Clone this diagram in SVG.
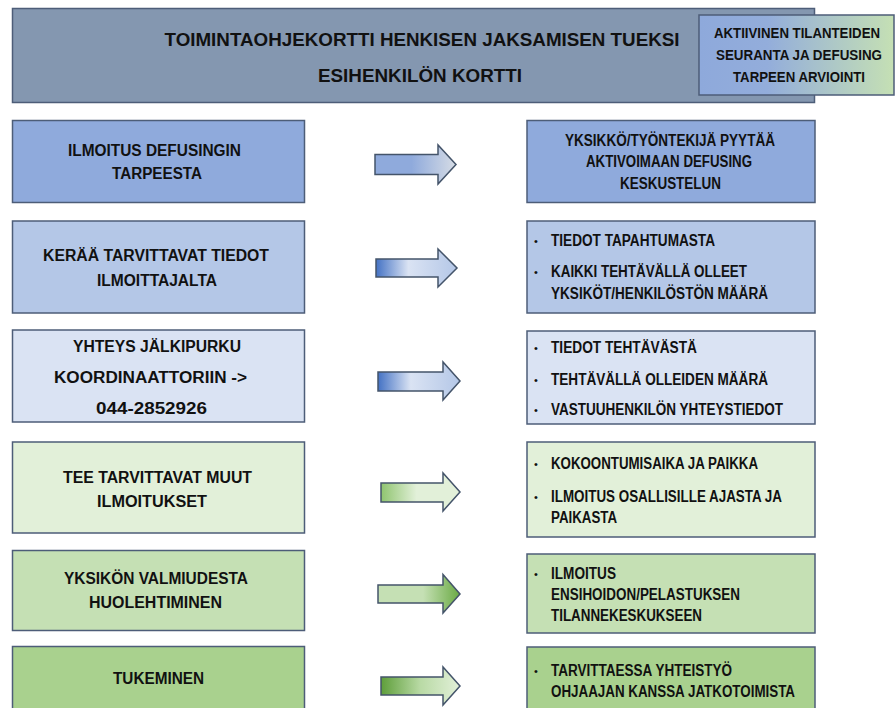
<svg xmlns="http://www.w3.org/2000/svg" width="896" height="708" viewBox="0 0 896 708">
<style>
.box{stroke:#4d5d78;stroke-width:1.5}
.arr{stroke:#44546a;stroke-width:1.5;stroke-linejoin:miter}
.lt{font-family:"Liberation Sans",Arial,sans-serif;font-weight:bold;font-size:16px;fill:#111;text-anchor:middle}
.rt{font-family:"Liberation Sans Narrow","Liberation Sans",Arial,sans-serif;font-weight:bold;font-size:16px;fill:#111}
.rc{text-anchor:middle}
.bl{font-family:"Liberation Sans",Arial,sans-serif;font-size:11px;fill:#111}
.ht{font-family:"Liberation Sans Narrow","Liberation Sans",Arial,sans-serif;font-weight:bold;font-size:18px;fill:#111;text-anchor:middle}
</style>
<defs>
<linearGradient id="gs" x1="0" y1="0" x2="1" y2="0"><stop offset="0" stop-color="#8EA9DB"/><stop offset="0.35" stop-color="#93ADDB"/><stop offset="1" stop-color="#C5E0B4"/></linearGradient>
<linearGradient id="g1" x1="0" y1="0" x2="1" y2="0"><stop offset="0" stop-color="#8FAADC"/><stop offset="0.45" stop-color="#8FAADC"/><stop offset="1" stop-color="#D6DCE5"/></linearGradient>
<linearGradient id="g2" x1="0" y1="0" x2="1" y2="0"><stop offset="0" stop-color="#4472C4"/><stop offset="0.4" stop-color="#DAE3F3"/><stop offset="1" stop-color="#B4C7E7"/></linearGradient>
<linearGradient id="g4" x1="0" y1="0" x2="1" y2="0"><stop offset="0" stop-color="#8FC46F"/><stop offset="0.45" stop-color="#E2F0D9"/><stop offset="1" stop-color="#E2F0D9"/></linearGradient>
<linearGradient id="g5" x1="0" y1="0" x2="1" y2="0"><stop offset="0" stop-color="#C5E0B4"/><stop offset="0.55" stop-color="#C5E0B4"/><stop offset="1" stop-color="#6AAA44"/></linearGradient>
<linearGradient id="g6" x1="0" y1="0" x2="1" y2="0"><stop offset="0" stop-color="#5E9E3A"/><stop offset="0.5" stop-color="#B9DAA5"/><stop offset="1" stop-color="#E2F0D9"/></linearGradient>
</defs>
<rect width="896" height="708" fill="#fff"/>

<g id="header">
<rect class="box" x="12.5" y="8.5" width="802" height="94" fill="#8497B0" stroke="#5b6b85"/>
<text class="ht" x="422" y="46" textLength="515" lengthAdjust="spacingAndGlyphs">TOIMINTAOHJEKORTTI HENKISEN JAKSAMISEN TUEKSI</text>
<text class="ht" x="420" y="82" textLength="204" lengthAdjust="spacingAndGlyphs">ESIHENKILÖN KORTTI</text>
</g>

<g id="seuranta">
<rect class="box" x="699" y="15" width="195" height="80" fill="url(#gs)"/>
<text class="rt rc" style="font-size:14px" x="797" y="38" textLength="166" lengthAdjust="spacingAndGlyphs">AKTIIVINEN TILANTEIDEN</text>
<text class="rt rc" style="font-size:14px" x="799" y="60" textLength="166" lengthAdjust="spacingAndGlyphs">SEURANTA JA DEFUSING</text>
<text class="rt rc" style="font-size:14px" x="799" y="82" textLength="132" lengthAdjust="spacingAndGlyphs">TARPEEN ARVIOINTI</text>
</g>

<g id="l1">
<rect class="box" x="12.5" y="120.5" width="292" height="82" fill="#8FAADC"/>
<text class="lt" x="154.5" y="156" textLength="173" lengthAdjust="spacingAndGlyphs">ILMOITUS DEFUSINGIN</text>
<text class="lt" x="157" y="179" textLength="90" lengthAdjust="spacingAndGlyphs">TARPEESTA</text>
</g>
<g id="l2">
<rect class="box" x="12.5" y="221" width="292" height="92" fill="#B4C7E7"/>
<text class="lt" x="156" y="261" textLength="226" lengthAdjust="spacingAndGlyphs">KERÄÄ TARVITTAVAT TIEDOT</text>
<text class="lt" x="157" y="286" textLength="120" lengthAdjust="spacingAndGlyphs">ILMOITTAJALTA</text>
</g>
<g id="l3">
<rect class="box" x="12.5" y="330" width="292" height="92" fill="#DAE3F3"/>
<text class="lt" x="157" y="352" textLength="168" lengthAdjust="spacingAndGlyphs">YHTEYS JÄLKIPURKU</text>
<text class="lt" x="150.5" y="383" textLength="193" lengthAdjust="spacingAndGlyphs">KOORDINAATTORIIN -&gt;</text>
<text class="lt" x="151.5" y="414" textLength="111" lengthAdjust="spacingAndGlyphs">044-2852926</text>
</g>
<g id="l4">
<rect class="box" x="12.5" y="442" width="292" height="91" fill="#E2F0D9"/>
<text class="lt" x="157.5" y="483" textLength="189" lengthAdjust="spacingAndGlyphs">TEE TARVITTAVAT MUUT</text>
<text class="lt" x="152" y="507" textLength="110" lengthAdjust="spacingAndGlyphs">ILMOITUKSET</text>
</g>
<g id="l5">
<rect class="box" x="12.5" y="550.5" width="292" height="80" fill="#C5E0B4"/>
<text class="lt" x="156" y="584" textLength="184" lengthAdjust="spacingAndGlyphs">YKSIKÖN VALMIUDESTA</text>
<text class="lt" x="155.5" y="608" textLength="133" lengthAdjust="spacingAndGlyphs">HUOLEHTIMINEN</text>
</g>
<g id="l6">
<rect class="box" x="12.5" y="646.5" width="292" height="80" fill="#A9D18E"/>
<text class="lt" x="158.5" y="684" textLength="91" lengthAdjust="spacingAndGlyphs">TUKEMINEN</text>
</g>

<g id="r1">
<rect class="box" x="527" y="120.5" width="288" height="82" fill="#8FAADC"/>
<text class="rt rc" x="670" y="146" textLength="210" lengthAdjust="spacingAndGlyphs">YKSIKKÖ/TYÖNTEKIJÄ PYYTÄÄ</text>
<text class="rt rc" x="669" y="167" textLength="166" lengthAdjust="spacingAndGlyphs">AKTIVOIMAAN DEFUSING</text>
<text class="rt rc" x="670.5" y="189" textLength="101" lengthAdjust="spacingAndGlyphs">KESKUSTELUN</text>
</g>
<g id="r2">
<rect class="box" x="527" y="221" width="288" height="92" fill="#B4C7E7"/>
<text class="bl" x="534" y="245">•</text>
<text class="rt" x="551" y="246" textLength="164" lengthAdjust="spacingAndGlyphs">TIEDOT TAPAHTUMASTA</text>
<text class="bl" x="534" y="276">•</text>
<text class="rt" x="551" y="277" textLength="196" lengthAdjust="spacingAndGlyphs">KAIKKI TEHTÄVÄLLÄ OLLEET</text>
<text class="rt" x="551" y="299" textLength="217" lengthAdjust="spacingAndGlyphs">YKSIKÖT/HENKILÖSTÖN MÄÄRÄ</text>
</g>
<g id="r3">
<rect class="box" x="527" y="331" width="288" height="93" fill="#DAE3F3"/>
<text class="bl" x="534" y="352">•</text>
<text class="rt" x="551" y="353" textLength="146" lengthAdjust="spacingAndGlyphs">TIEDOT TEHTÄVÄSTÄ</text>
<text class="bl" x="534" y="384">•</text>
<text class="rt" x="551" y="385" textLength="217" lengthAdjust="spacingAndGlyphs">TEHTÄVÄLLÄ OLLEIDEN MÄÄRÄ</text>
<text class="bl" x="534" y="414">•</text>
<text class="rt" x="551" y="415" textLength="232" lengthAdjust="spacingAndGlyphs">VASTUUHENKILÖN YHTEYSTIEDOT</text>
</g>
<g id="r4">
<rect class="box" x="527" y="442" width="288" height="95" fill="#E2F0D9"/>
<text class="bl" x="534" y="468">•</text>
<text class="rt" x="551" y="469" textLength="207" lengthAdjust="spacingAndGlyphs">KOKOONTUMISAIKA JA PAIKKA</text>
<text class="bl" x="534" y="501">•</text>
<text class="rt" x="551" y="502" textLength="231" lengthAdjust="spacingAndGlyphs">ILMOITUS OSALLISILLE AJASTA JA</text>
<text class="rt" x="551" y="523" textLength="66" lengthAdjust="spacingAndGlyphs">PAIKASTA</text>
</g>
<g id="r5">
<rect class="box" x="527" y="554" width="288" height="79" fill="#C5E0B4"/>
<text class="bl" x="534" y="578">•</text>
<text class="rt" x="551" y="579" textLength="65" lengthAdjust="spacingAndGlyphs">ILMOITUS</text>
<text class="rt" x="551" y="600" textLength="189" lengthAdjust="spacingAndGlyphs">ENSIHOIDON/PELASTUKSEN</text>
<text class="rt" x="551" y="621" textLength="151" lengthAdjust="spacingAndGlyphs">TILANNEKESKUKSEEN</text>
</g>
<g id="r6">
<rect class="box" x="527" y="647" width="288" height="80" fill="#A9D18E"/>
<text class="bl" x="534" y="675">•</text>
<text class="rt" x="551" y="676" textLength="181" lengthAdjust="spacingAndGlyphs">TARVITTAESSA YHTEISTYÖ</text>
<text class="rt" x="551" y="697" textLength="244" lengthAdjust="spacingAndGlyphs">OHJAAJAN KANSSA JATKOTOIMISTA</text>
</g>

<g id="connectors">
<polygon class="arr" fill="url(#g1)" points="375,154.5 438,154.5 438,145 456,164.5 438,184 438,174.5 375,174.5"/>
<polygon class="arr" fill="url(#g2)" points="376,259 438,259 438,249 457,268 438,287 438,277 376,277"/>
<polygon class="arr" fill="url(#g2)" points="378,372 443,372 443,362 460,381 443,400 443,391 378,391"/>
<polygon class="arr" fill="url(#g4)" points="381,483 443,483 443,473 460,492 443,511 443,502 381,502"/>
<polygon class="arr" fill="url(#g5)" points="378,585 443,585 443,574.5 460,594 443,613 443,603 378,603"/>
<polygon class="arr" fill="url(#g6)" points="381,677 443,677 443,667 460,686 443,705 443,695 381,695"/>
</g>
</svg>
